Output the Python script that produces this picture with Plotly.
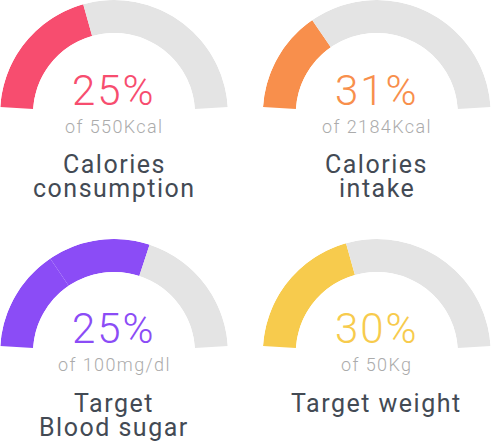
import plotly.graph_objects as go

# ---------------- data ----------------
title_lines = [["Calories", "consumption"], ["Calories", "intake"],
               ["Target", "Blood sugar"], ["Target weight"]]
percent_labels = ["25%", "31%", "25%", "30%"]
subtitles = ["of 550Kcal", "of 2184Kcal", "of 100mg/dl", "of 50Kg"]
filled_parts = [[41.3], [30.8], [31.1, 29.0], [41.3]]   # % of the gauge arc
colors = ["#F74D6F", "#F88F4C", "#8B4CF6", "#F7CB4D"]
track_color = "#E4E4E4"

# ---------------- layout geometry ----------------
W, H = 492, 444
R = 114
centers = [(114, 114), (376.8, 114), (114, 353), (376.8, 353)]
HOLE = 0.711
FONT = "Roboto"

fig = go.Figure()
annotations = []

for i in range(4):
    cx, cy = centers[i]
    pname = "polar" if i == 0 else f"polar{i+1}"
    parts = filled_parts[i]
    cum = 0.0
    thetas, widths, cols = [], [], []
    for v in parts:
        thetas.append((cum + v / 2) * 1.8)
        widths.append(v * 1.8)
        cols.append(colors[i])
        cum += v
    rest = 100 - cum
    thetas.append((cum + rest / 2) * 1.8)
    widths.append(rest * 1.8)
    cols.append(track_color)
    fig.add_trace(go.Barpolar(
        r=[1] * len(thetas), theta=thetas, width=widths, base=0,
        marker=dict(color=cols, line=dict(width=0)),
        subplot=pname, showlegend=False, hoverinfo="skip"))

    dom_x = [(cx - R) / W, min((cx + R) / W, 1)]
    dom_y = [1 - cy / H, 1 - (cy - R) / H]
    fig.layout[pname] = dict(
        domain=dict(x=dom_x, y=dom_y),
        sector=[3.5, 176.5],
        hole=HOLE,
        bgcolor="rgba(0,0,0,0)",
        radialaxis=dict(visible=False, range=[0, 1], showgrid=False),
        angularaxis=dict(visible=False, rotation=180, direction="clockwise",
                         showgrid=False, showline=False, ticks=""),
    )

    def add_text(txt, baseline_px, size, color, weight, spacing):
        annotations.append(dict(
            text=f"<span style='letter-spacing:{spacing}px'>{txt}</span>",
            x=cx / W, y=1 - (baseline_px - 0.342 * size) / H,
            xref="paper", yref="paper",
            xanchor="center", yanchor="middle", showarrow=False,
            font=dict(family=FONT, size=size, color=color, weight=weight)))

    dy = 0 if i < 2 else 238.5
    add_text(percent_labels[i], 104.5 + dy, 42, colors[i], 300, 2.0)
    add_text(subtitles[i], 132.5 + dy, 18, "#ABABAB", 300, 1.4)
    for k, line in enumerate(title_lines[i]):
        add_text(line, 173.5 + 24 * k + dy, 25, "#434A54", 400, 1.5)

fig.update_layout(
    width=W, height=H, margin=dict(l=0, r=0, t=0, b=0),
    paper_bgcolor="white", plot_bgcolor="white",
    annotations=annotations, showlegend=False,
)
fig.write_html("out.html")
